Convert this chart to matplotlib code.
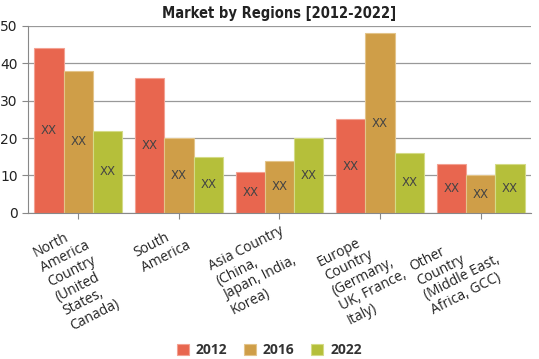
import numpy as np
import matplotlib.pyplot as plt

# Données du graphique
regions = ["North\nAmerica\nCountry\n(United\nStates,\nCanada)",
           "South\nAmerica",
           "Asia Country\n(China,\nJapan, India,\nKorea)",
           "Europe\nCountry\n(Germany,\nUK, France,\nItaly)",
           "Other\nCountry\n(Middle East,\nAfrica, GCC)"]
years = ["2012", "2016", "2022"]
v2012 = [44, 36, 11, 25, 13]
v2016 = [38, 20, 14, 48, 10]
v2022 = [22, 15, 20, 16, 13]
colors = ["#E8664F", "#CF9E48", "#B5BF3A"]
edges = ["#F3A192", "#E3C48A", "#D4DB86"]

fig = plt.figure(figsize=(5.39, 3.59), dpi=100)
ax = fig.add_axes([0.052, 0.407, 0.933, 0.521])

x = np.arange(len(regions))
w = 0.291
series = [v2012, v2016, v2022]
for i, vals in enumerate(series):
    pos = x + (i - 1) * w
    ax.bar(pos, vals, w, color=colors[i], edgecolor=edges[i], linewidth=0.8,
           label=years[i], zorder=2)
    for px, v in zip(pos, vals):
        ax.text(px, v / 2, "XX", ha="center", va="center", fontsize=8.5,
                color="#444444", zorder=3)

ax.set_xlim(-0.5, len(regions) - 0.5)
ax.set_ylim(0, 50)
ax.set_yticks(range(0, 51, 10))
ax.yaxis.grid(True, color="#999999", linewidth=0.9, zorder=0)
ax.set_axisbelow(True)
for s in ["top", "right"]:
    ax.spines[s].set_visible(False)
ax.spines["left"].set_color("#888888")
ax.spines["bottom"].set_color("#888888")
ax.tick_params(axis="y", colors="#888888", labelcolor="#222222", labelsize=10, length=4)
ax.tick_params(axis="x", colors="#888888", labelcolor="#222222", length=4)
ax.set_xticks(x)
ax.set_xticklabels(regions, rotation=27, ha="right", va="top", rotation_mode="anchor",
                   multialignment="left", fontsize=10, family="Open Sans",
                   linespacing=1.12)

ax.set_title("Market by Regions [2012-2022]", fontsize=10.5, fontweight="heavy",
             family="DejaVu Sans", fontstretch="condensed", color="#222222", pad=6)

fig.legend(loc="lower center", ncol=3, frameon=False, handlelength=0.85,
           handleheight=0.85, handletextpad=0.5, columnspacing=1.2,
           bbox_to_anchor=(0.5, -0.03), prop={"family": "Open Sans", "size": 10, "weight": "bold"},
           labelcolor="#333333")

fig.savefig("out.png", dpi=100)
